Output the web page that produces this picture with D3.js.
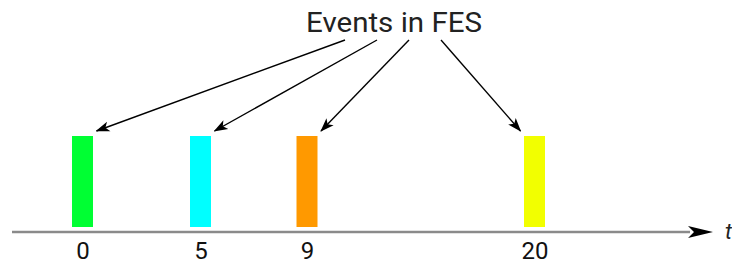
<!DOCTYPE html>
<html>
<head>
<meta charset="utf-8">
<script src="https://cdn.jsdelivr.net/npm/d3@7"></script>
<style>
  body { margin: 0; background: #fff; }
  svg { display: block; font-family: Roboto, "Noto Sans", sans-serif; }
</style>
</head>
<body>
<div id="chart"></div>
<script>
// event times in the future event set (FES) and their colours
const eventTimes = [0, 5, 9, 20];
const eventColors = ["#00ff33", "#00ffff", "#ff9900", "#f2ff00"];
const tickLabels = ["0", "5", "9", "20"];
const titleText = "Events in FES";
const axisLabel = "t";

const width = 732, height = 263;
const axisY = 232;
const barW = 21, barTop = 136, barBottom = 227;

const svg = d3.select("#chart")
  .append("svg")
  .attr("width", width)
  .attr("height", height);

// schematic time axis, spacing is not proportional in the drawing
const x = d3.scaleLinear()
  .domain(eventTimes)
  .range([82.5, 200.5, 307, 534.5]);

// markers for the arrows
const defs = svg.append("defs");
defs.append("marker")
  .attr("id", "head")
  .attr("markerUnits", "userSpaceOnUse")
  .attr("viewBox", "0 -6 14 12")
  .attr("refX", 13)
  .attr("refY", 0)
  .attr("markerWidth", 14)
  .attr("markerHeight", 12)
  .attr("orient", "auto")
  .append("path")
  .attr("d", "M0,-5L14,0L0,5L3.5,0Z")
  .attr("fill", "#000");

// time axis line
svg.append("line")
  .attr("x1", 12)
  .attr("x2", 690)
  .attr("y1", axisY)
  .attr("y2", axisY)
  .attr("stroke", "#8a8a8a")
  .attr("stroke-width", 2.5);

svg.append("path")
  .attr("d", "M688,226L713,232L688,238L694,232Z")
  .attr("fill", "#000");

svg.append("text")
  .attr("x", 725)
  .attr("y", 239)
  .attr("font-size", 22)
  .attr("font-style", "italic")
  .attr("fill", "#222")
  .text(axisLabel);

// tick labels via d3 axis
const axis = svg.append("g")
  .attr("transform", `translate(0,${axisY})`)
  .call(d3.axisBottom(x).tickValues(eventTimes).tickSize(0).tickPadding(9.5)
    .tickFormat((d, i) => tickLabels[i]));
axis.select(".domain").remove();
axis.selectAll("text")
  .attr("font-size", 24)
  .attr("font-family", "Roboto, sans-serif")
  .attr("fill", "#111");

// event bars
svg.selectAll("rect.event")
  .data(eventTimes)
  .join("rect")
  .attr("class", "event")
  .attr("x", d => x(d) - barW / 2)
  .attr("y", barTop)
  .attr("width", barW)
  .attr("height", barBottom - barTop)
  .attr("fill", (d, i) => eventColors[i]);

// title
const titleX = 394;
svg.append("text")
  .attr("x", titleX)
  .attr("y", 31.5)
  .attr("text-anchor", "middle")
  .attr("font-size", 27)
  .attr("textLength", 176)
  .attr("lengthAdjust", "spacingAndGlyphs")
  .attr("fill", "#222")
  .text(titleText);

// arrows from title to each event
svg.selectAll("line.pointer")
  .data(eventTimes)
  .join("line")
  .attr("class", "pointer")
  .attr("x1", (d, i) => titleX - 1 + (i - 1.5) * 32)
  .attr("y1", 40)
  .attr("x2", d => d < 15 ? x(d) + 14 : x(d) - 14)
  .attr("y2", 131)
  .attr("stroke", "#000")
  .attr("stroke-width", 1.4)
  .attr("marker-end", "url(#head)");
</script>
</body>
</html>
